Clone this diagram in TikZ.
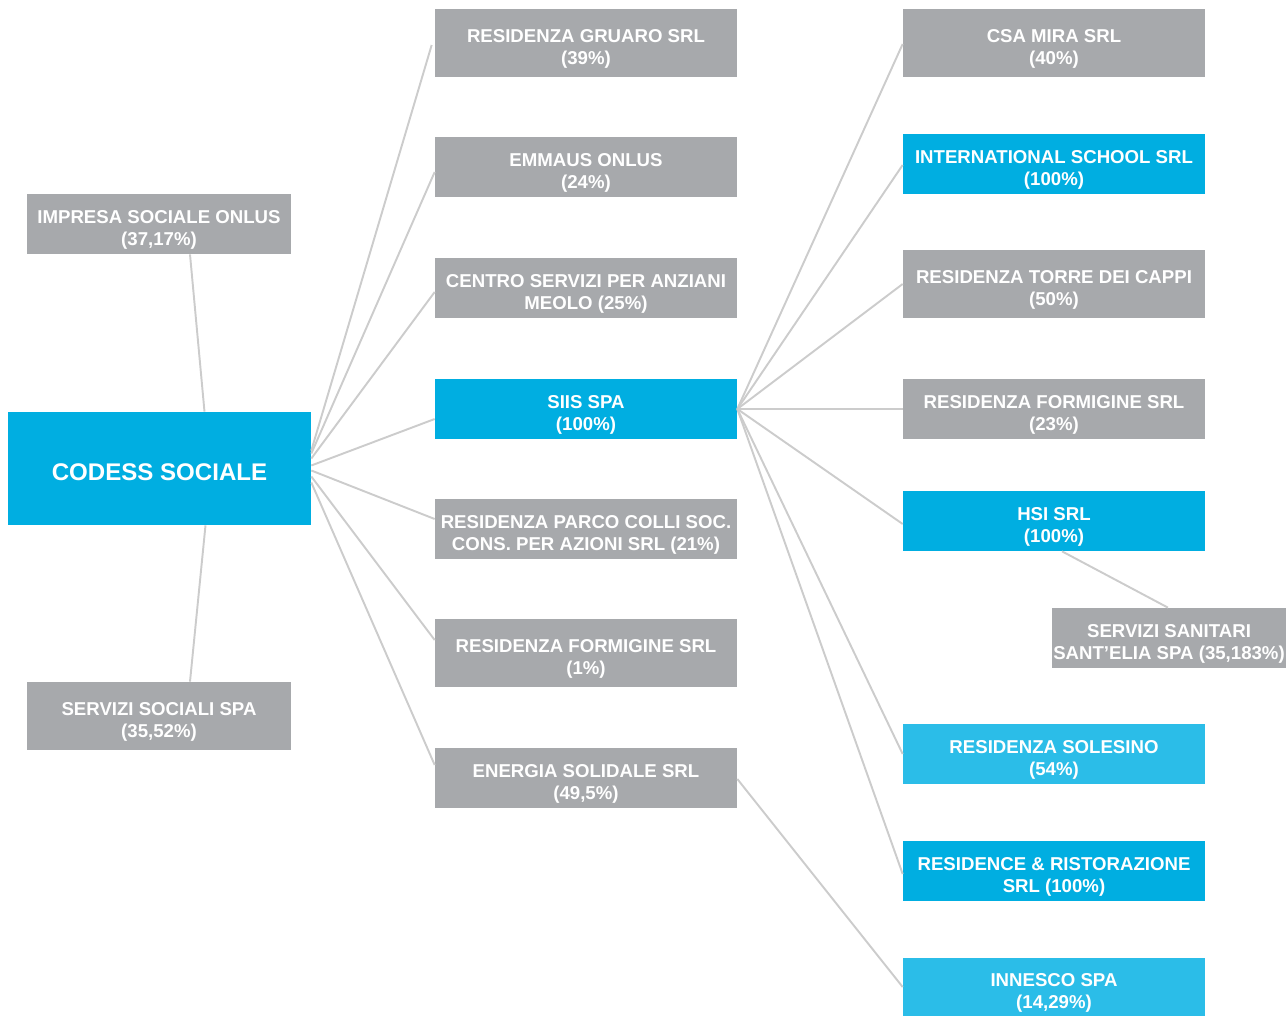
\documentclass[tikz,border=0pt]{standalone}
\usepackage{fontspec}
\setmainfont{Liberation Sans}
\usetikzlibrary{calc}
\definecolor{cblue}{RGB}{0,174,225}
\definecolor{lblue}{RGB}{43,189,232}
\definecolor{cgray}{RGB}{167,169,172}
\definecolor{cline}{RGB}{204,204,204}
\newcommand{\bx}[4]{%
  \node[#2] (#1) at (#3) {};
  \node[txt] (#1-t) at ($(#1)+(0,6)$) {#4};}
\begin{document}
\begin{tikzpicture}[x=0.02cm,y=-0.02cm,
  txt/.style={text=white,font=\fontsize{10.6}{12.6}\selectfont\bfseries,align=center,inner sep=0pt},
  box/.style={fill=cgray,inner sep=0pt,minimum width=6.04cm},
  bbox/.style={box,fill=cblue},
  lbbox/.style={box,fill=lblue},
  h60/.style={minimum height=1.2cm},
  h68/.style={minimum height=1.36cm},
  conn/.style={draw=cline,line width=1.1pt}]
\useasboundingbox (0,0) rectangle (1286,1017);
% left
\node[bbox,minimum width=6.06cm,minimum height=2.26cm] (codess) at (159.5,468.5) {};
\node[txt,font=\fontsize{13.7}{16}\selectfont\bfseries] (codess-t) at ($(codess)+(0,4)$) {CODESS SOCIALE};
\bx{impresa}{box,h60,minimum width=5.28cm}{159,224}{IMPRESA SOCIALE ONLUS\\(37,17\%)}
\bx{servsoc}{box,h68,minimum width=5.28cm}{159,716}{SERVIZI SOCIALI SPA\\(35,52\%)}
% middle
\bx{gruaro}{box,h68}{586,43}{RESIDENZA GRUARO SRL\\(39\%)}
\bx{emmaus}{box,h60}{586,167}{EMMAUS ONLUS\\(24\%)}
\bx{centro}{box,h60}{586,288}{CENTRO SERVIZI PER ANZIANI\\MEOLO (25\%)}
\bx{siis}{bbox,h60}{586,409}{SIIS SPA\\(100\%)}
\bx{parco}{box,h60}{586,529}{RESIDENZA PARCO COLLI SOC.\\CONS. PER AZIONI SRL (21\%)}
\bx{formA}{box,h68}{586,653}{RESIDENZA FORMIGINE SRL\\(1\%)}
\bx{energia}{box,h60}{586,778}{ENERGIA SOLIDALE SRL\\(49,5\%)}
% right
\bx{csa}{box,h68}{1054,43}{CSA MIRA SRL\\(40\%)}
\bx{intl}{bbox,h60}{1054,164}{INTERNATIONAL SCHOOL SRL\\(100\%)}
\bx{torre}{box,h68}{1054,284}{RESIDENZA TORRE DEI CAPPI\\(50\%)}
\bx{formB}{box,h60}{1054,409}{RESIDENZA FORMIGINE SRL\\(23\%)}
\bx{hsi}{bbox,h60}{1054,521}{HSI SRL\\(100\%)}
\bx{elia}{box,h60,minimum width=4.68cm}{1169,638}{SERVIZI SANITARI\\SANT’ELIA SPA (35,183\%)}
\bx{solesino}{lbbox,h60}{1054,754}{RESIDENZA SOLESINO\\(54\%)}
\bx{residence}{bbox,h60}{1054,871}{RESIDENCE \& RISTORAZIONE\\SRL (100\%)}
\bx{innesco}{lbbox,minimum height=1.16cm}{1054,987}{INNESCO SPA\\(14,29\%)}
% connectors
\draw[conn] ($(impresa.south)+(31,0)$) -- ($(codess.north)+(45,0)$);
\draw[conn] ($(codess.south)+(46,0)$) -- ($(servsoc.north)+(31,0)$);
\draw[conn] ($(codess.east)+(0,-18)$) -- ($(gruaro.west)+(-3,2)$);
\draw[conn] ($(codess.east)+(0,-15)$) -- ($(emmaus.west)+(0,5)$);
\draw[conn] ($(codess.east)+(0,-10)$) -- ($(centro.west)+(0,4)$);
\draw[conn] ($(codess.east)+(0,-3)$) -- ($(siis.west)+(0,10)$);
\draw[conn] ($(codess.east)+(0,2)$) -- ($(parco.west)+(0,-10)$);
\draw[conn] ($(codess.east)+(0,8)$) -- ($(formA.west)+(0,-13)$);
\draw[conn] ($(codess.east)+(0,14)$) -- ($(energia.west)+(0,-13)$);
\draw[conn] (siis.east) -- ($(csa.west)+(0,1)$);
\draw[conn] (siis.east) -- ($(intl.west)+(0,1)$);
\draw[conn] (siis.east) -- (torre.west);
\draw[conn] (siis.east) -- (formB.west);
\draw[conn] (siis.east) -- ($(hsi.west)+(0,3)$);
\draw[conn] (siis.east) -- (solesino.west);
\draw[conn] (siis.east) -- ($(residence.west)+(0,3)$);
\draw[conn] ($(energia.east)+(0,1)$) -- (innesco.west);
\draw[conn] ($(hsi.south)+(8,0)$) -- ($(elia.north)+(-1,0)$);
\end{tikzpicture}
\end{document}
